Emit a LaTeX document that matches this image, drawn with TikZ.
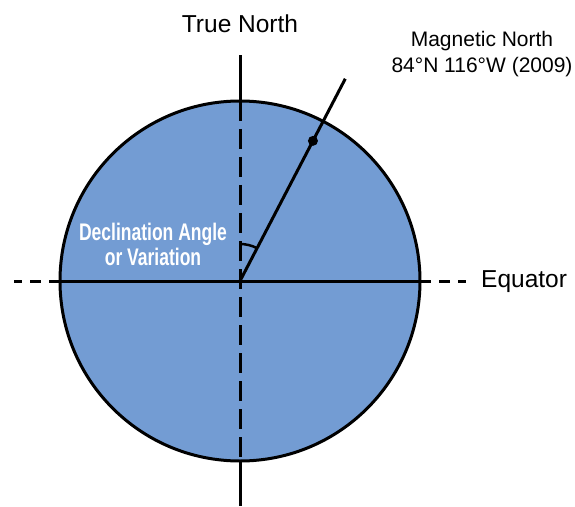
\documentclass[tikz,border=0pt]{standalone}
\usepackage{fontspec}
\setmainfont{Liberation Sans}
\newfontfamily\narrowfont[FakeStretch=0.73]{Liberation Sans}
\usetikzlibrary{positioning}
\definecolor{globeBlue}{RGB}{115,156,211}

\begin{document}
\begin{tikzpicture}[
    x=1pt, y=1pt,
    globe/.style={
        circle,
        minimum size=360pt,
        inner sep=0pt,
        outer sep=0pt,
        fill=globeBlue,
        draw=black,
        line width=3pt
    },
    axis/.style={
        line width=3pt,
        draw=black
    },
    dashline/.style={
        axis,
        dash pattern=on 20pt off 8pt
    },
    outdash/.style={
        axis,
        dash pattern=on 11pt off 8pt
    },
    label/.style={
        inner sep=0pt,
        font=\fontsize{24.5}{29}\selectfont
    }
]

\useasboundingbox (-240,-225) rectangle (335,281);

% Earth
\node[globe] (earth) at (0,0) {};

% End points
\coordinate (tn) at (0,226);
\coordinate (bottom) at (0,-225);
\coordinate (wend) at (-226,0);
\coordinate (eend) at (226,0);
\coordinate (mn) at (62.5:228);
\coordinate (pole) at (62.5:158);

% Meridian
\draw[axis] (earth.north) -- (tn);
\draw[axis] (earth.south) -- (bottom);
\draw[dashline] (earth.north) -- (earth.south);

% Equator
\draw[axis] (earth.west) -- (earth.east);
\draw[outdash] (earth.west) -- (wend);
\draw[outdash] (earth.east) -- (eend);

% Magnetic direction
\draw[axis] (earth.center) -- (mn);
\fill (pole) circle (5);
\draw[line width=2.5pt] (earth.center) ++(90:37) arc (90:62.5:37);

% Labels
\node[label, anchor=base] (truen) at (0,248) {True North};
\node[label, anchor=base west] (equ) at (241,-6) {Equator};
\node[inner sep=0pt, anchor=base, align=center,
      font=\fontsize{21}{26}\selectfont] (magn) at (242,208)
    {Magnetic North\\84°N 116°W (2009)};
\node[inner sep=0pt, anchor=base, align=center, text=white,
      font=\narrowfont\bfseries\fontsize{24}{25}\selectfont] (decl) at (-87,16)
    {Declination Angle\\or Variation};

\end{tikzpicture}
\end{document}
